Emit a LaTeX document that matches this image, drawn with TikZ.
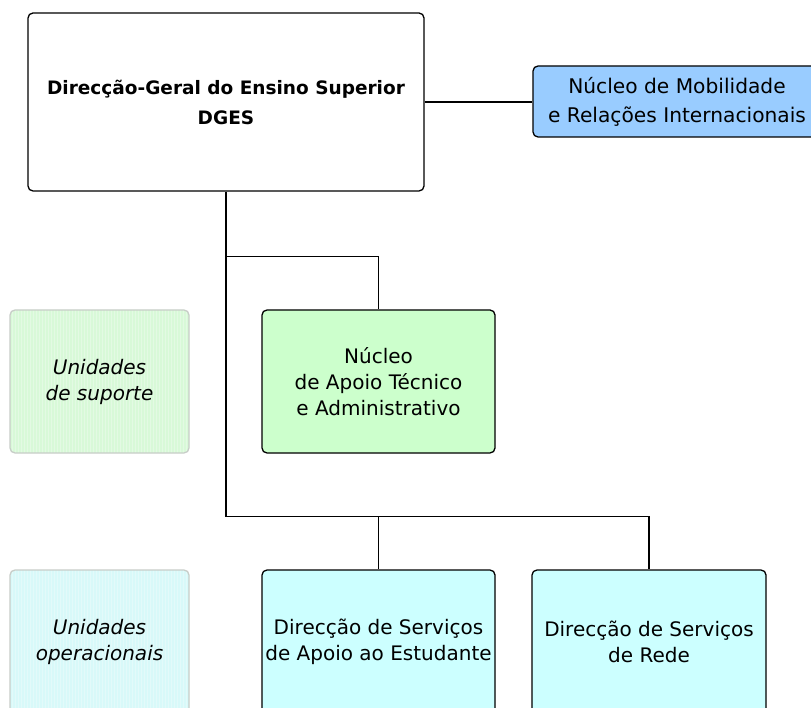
\documentclass[tikz,border=0pt]{standalone}
\usepackage{fontspec}
\setmainfont{DejaVu Sans}
\definecolor{mobblue}{RGB}{153,204,255}
\definecolor{apgreen}{RGB}{204,255,204}
\definecolor{opcyan}{RGB}{204,255,255}
\definecolor{supfill}{RGB}{216,249,216}
\definecolor{opfill}{RGB}{216,249,249}
\definecolor{paleborder}{RGB}{200,205,200}
\begin{document}
\begin{tikzpicture}[x=1pt,y=-1pt,
  box/.style={draw=black, line width=1.3pt, rounded corners=5pt, align=center,
    inner sep=0pt, font=\fontsize{20}{26}\selectfont},
  palebox/.style={draw=paleborder, line width=1.3pt, rounded corners=5pt, align=center,
    inner sep=0pt, font=\fontsize{20}{26}\selectfont\itshape,
    path picture={\draw[white, line width=0.4pt, opacity=0.3, step=3]
      (path picture bounding box.south west) grid (path picture bounding box.north east);}},
  conn/.style={draw=black, line width=1.3pt}]
\useasboundingbox (0,0) rectangle (811,708);
\clip (0,0) rectangle (811,708);
\node[box, fill=white, minimum width=396, minimum height=178,
  font=\fontsize{18.5}{30}\selectfont\bfseries] (dges) at (226,102)
  {Direcção-Geral do Ensino Superior\\DGES};
\node[box, fill=mobblue, minimum width=288, minimum height=71,
  font=\fontsize{20.2}{29}\selectfont] (mob) at (677,101.5)
  {Núcleo de Mobilidade\\e Relações Internacionais};
\node[box, fill=apgreen, minimum width=233, minimum height=143] (apoio) at (378.5,381.5)
  {Núcleo\\de Apoio Técnico\\e Administrativo};
\node[palebox, fill=supfill, minimum width=179, minimum height=143] (sup) at (99.5,381.5)
  {Unidades\\de suporte};
\node[palebox, fill=opfill, minimum width=179, minimum height=143] (oper) at (99.5,641.5)
  {Unidades\\operacionais};
\node[box, fill=opcyan, minimum width=233, minimum height=143] (estud) at (378.5,641.5)
  {Direcção de Serviços\\de Apoio ao Estudante};
\node[box, fill=opcyan, minimum width=234, minimum height=143] (rede) at (649,641.5)
  {Direcção de Serviços\\de Rede};
\path (dges.south) ++(0,65) coordinate (j1);
\path (dges.south) ++(0,325) coordinate (j2);
\draw[conn] (dges.east) -- (dges.east -| mob.west);
\draw[conn] (dges.south) -- (j1) -| (apoio.north);
\draw[conn] (j1) -- (j2) -| (rede.north);
\draw[conn] (j2 -| estud.north) -- (estud.north);
\end{tikzpicture}
\end{document}
